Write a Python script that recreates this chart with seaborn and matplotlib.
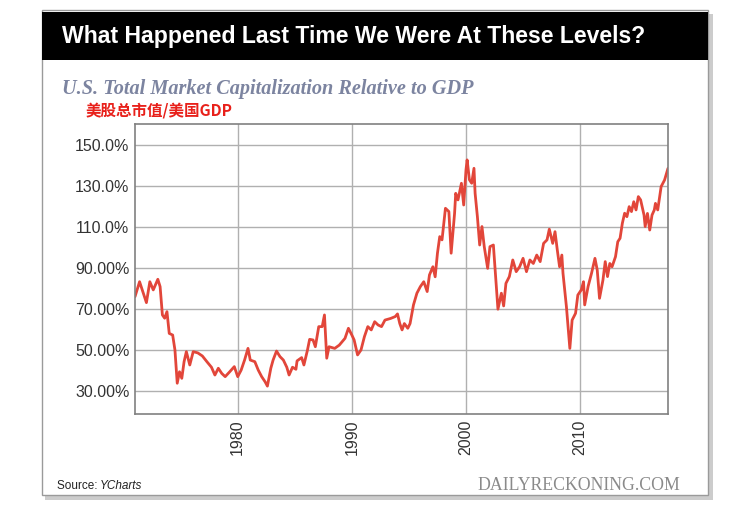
import matplotlib
matplotlib.use("Agg")
import matplotlib.pyplot as plt
import seaborn as sns
import pandas as pd
from matplotlib.patches import Rectangle

# datos (año, % del PIB)
years = [1971.0, 1971.4, 1972.0, 1972.3, 1972.6, 1973.0, 1973.2, 1973.4, 1973.6, 1973.8,
         1974.0, 1974.3, 1974.5, 1974.7, 1974.9, 1975.1, 1975.3, 1975.5, 1975.8, 1976.1,
         1976.5, 1976.9, 1977.3, 1977.7, 1978.0, 1978.3, 1978.6, 1978.9, 1979.3, 1979.7,
         1980.0, 1980.3, 1980.6, 1980.9, 1981.1, 1981.5, 1981.8, 1982.1, 1982.4, 1982.6,
         1982.9, 1983.1, 1983.4, 1983.7, 1984.0, 1984.3, 1984.5, 1984.8, 1985.1, 1985.2,
         1985.6, 1985.8, 1986.1, 1986.3, 1986.6, 1986.8, 1987.1, 1987.4, 1987.6, 1987.8,
         1988.0, 1988.5, 1988.9, 1989.4, 1989.7, 1990.0, 1990.2, 1990.5, 1990.8, 1991.1,
         1991.4, 1991.7, 1992.0, 1992.3, 1992.6, 1992.9, 1993.4, 1993.8, 1994.0, 1994.2,
         1994.4, 1994.6, 1994.9, 1995.1, 1995.4, 1995.7, 1996.0, 1996.3, 1996.6, 1996.8,
         1997.1, 1997.3, 1997.5, 1997.7, 1997.9, 1998.2, 1998.5, 1998.7, 1999.0, 1999.1,
         1999.3, 1999.6, 1999.8, 2000.0, 2000.1, 2000.3, 2000.5, 2000.7, 2000.8, 2001.0,
         2001.2, 2001.4, 2001.6, 2001.9, 2002.1, 2002.4, 2002.6, 2002.8, 2003.1, 2003.3,
         2003.5, 2003.8, 2004.1, 2004.4, 2004.7, 2005.0, 2005.3, 2005.6, 2005.9, 2006.2,
         2006.5, 2006.8, 2007.1, 2007.3, 2007.6, 2007.8, 2008.0, 2008.2, 2008.4, 2008.5,
         2008.8, 2009.1, 2009.3, 2009.6, 2009.8, 2010.1, 2010.3, 2010.4, 2010.7, 2011.0,
         2011.3, 2011.5, 2011.7, 2012.0, 2012.2, 2012.4, 2012.6, 2012.8, 2013.1, 2013.3,
         2013.5, 2013.7, 2013.9, 2014.1, 2014.3, 2014.5, 2014.7, 2014.9, 2015.1, 2015.3,
         2015.6, 2015.7, 2015.9, 2016.1, 2016.3, 2016.5, 2016.6, 2016.8, 2017.1, 2017.4,
         2017.7]
ratio = [76.0, 83.3, 73.1, 83.3, 79.3, 84.5, 80.9, 67.1, 65.5, 68.7,
         58.1, 57.3, 50.0, 33.8, 39.4, 36.2, 44.3, 49.2, 42.7, 49.2,
         48.6, 47.1, 44.3, 41.6, 37.8, 41.1, 38.6, 37.0, 39.4, 41.9,
         37.0, 40.2, 45.1, 50.8, 45.1, 44.3, 40.2, 37.0, 34.5, 32.4,
         41.1, 45.1, 49.5, 46.8, 45.1, 41.6, 37.8, 41.6, 40.6, 44.7,
         46.3, 42.7, 49.7, 55.2, 54.9, 51.6, 61.4, 61.4, 67.1, 46.0,
         51.6, 50.8, 52.4, 55.7, 60.6, 57.3, 54.9, 47.6, 50.0, 56.5,
         61.4, 59.8, 63.8, 62.2, 61.4, 64.6, 65.4, 66.3, 67.6, 62.9,
         59.8, 62.9, 60.6, 62.9, 72.0, 77.7, 80.9, 83.3, 78.5, 86.6,
         90.6, 85.7, 97.2, 105.3, 103.7, 119.1, 117.5, 97.2, 116.6, 126.4,
         123.2, 131.3, 120.7, 137.8, 142.7, 133.0, 131.3, 138.6, 126.4, 115.0,
         101.2, 110.2, 100.4, 89.8, 100.4, 101.2, 85.8, 69.9, 77.7, 71.5,
         82.5, 85.8, 93.9, 88.2, 90.6, 94.7, 88.2, 93.9, 92.2, 96.3,
         93.1, 102.0, 103.7, 108.9, 102.0, 107.7, 98.8, 90.6, 96.3, 87.4,
         71.1, 50.8, 64.6, 67.9, 76.8, 79.3, 83.3, 72.0, 81.0, 87.4,
         94.7, 89.0, 75.2, 84.1, 93.1, 85.8, 92.2, 90.6, 95.5, 102.8,
         104.5, 111.8, 116.7, 115.0, 119.9, 117.5, 122.3, 118.3, 124.8, 123.2,
         115.8, 110.2, 116.6, 108.5, 115.8, 118.3, 121.5, 118.3, 129.7, 132.9,
         138.6]

x_ticks = [1980, 1990, 2000, 2010]
y_ticks = [150, 130, 110, 90, 70, 50, 30]
y_labels = ["150.0%", "130.0%", "110.0%", "90.00%", "70.00%", "50.00%", "30.00%"]

df = pd.DataFrame({"year": years, "ratio": ratio})

sns.set_theme(style="whitegrid")
plt.rcParams["font.family"] = ["Liberation Sans", "DejaVu Sans"]

fig = plt.figure(figsize=(7.39, 5.08), dpi=100)
W, H = 739, 508

# tarjeta con sombra
fig.patches.append(Rectangle((45 / W, 1 - 500 / H), 668 / W, 486 / H, transform=fig.transFigure,
                             facecolor="#cccccc", edgecolor="none", zorder=0))
fig.patches.append(Rectangle((42 / W, 1 - 495 / H), 666 / W, 485 / H, transform=fig.transFigure,
                             facecolor="white", edgecolor="#9a9a9a", linewidth=1, zorder=1))
fig.patches.append(Rectangle((42 / W, 1 - 60 / H), 666 / W, 48 / H, transform=fig.transFigure,
                             facecolor="black", edgecolor="none", zorder=2))

fig.text(62 / W, 1 - 37 / H, "What Happened Last Time We Were At These Levels?",
         color="white", fontsize=16.6, fontweight="bold", va="center", ha="left", zorder=3)
fig.text(62 / W, 1 - 89 / H, "U.S. Total Market Capitalization Relative to GDP",
         color="#7c84a0", fontsize=14.6, fontweight="bold", style="italic",
         family=["Liberation Serif", "DejaVu Serif"], va="center", ha="left", zorder=3)
fig.text(86 / W, 1 - 110 / H, "美股总市值/美国GDP", color="#e8201a", fontsize=11.2,
         fontweight="bold", family=["Noto Sans CJK SC", "DejaVu Sans"],
         va="center", ha="left", zorder=3)

ax = fig.add_axes([135 / W, 1 - 414 / H, 533 / W, 290 / H], zorder=4)
sns.lineplot(data=df, x="year", y="ratio", ax=ax, color="#e2463a", linewidth=2.0)

ax.set_xlim(1971.0, 2017.7)
ax.set_ylim(18.8, 160.2)
ax.set_xticks(x_ticks)
ax.set_xticklabels([str(t) for t in x_ticks], rotation=90)
ax.set_yticks(y_ticks)
ax.set_yticklabels(y_labels)
ax.tick_params(axis="both", labelsize=11.5, labelcolor="#333333", length=0, pad=4)
ax.set_xlabel("")
ax.set_ylabel("")
ax.grid(True, color="#b0b0b0", linewidth=1)
for s in ax.spines.values():
    s.set_color("#808080")
    s.set_linewidth(1.2)

fig.text(57 / W, 1 - 486 / H, "Source: ", color="#222222", fontsize=8.5,
         va="center", ha="left", zorder=3)
fig.text(100 / W, 1 - 486 / H, "YCharts", color="#222222", fontsize=8.5, style="italic",
         va="center", ha="left", zorder=3)
fig.text(680 / W, 1 - 486 / H, "DAILYRECKONING.COM", color="#8a8a8a", fontsize=12.8,
         family=["Liberation Serif", "DejaVu Serif"], va="center", ha="right", zorder=3)

fig.savefig("out.png", dpi=100)
